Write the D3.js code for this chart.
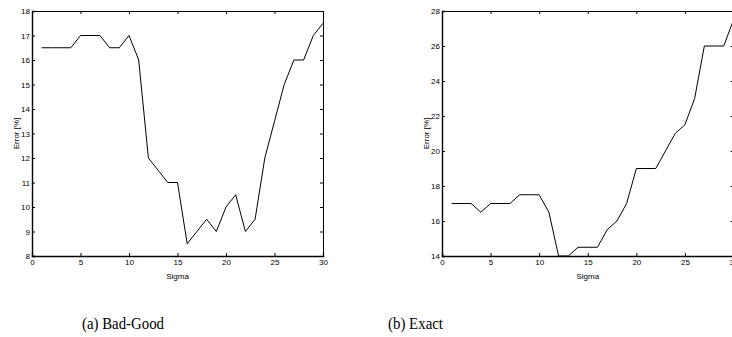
<!DOCTYPE html>
<html lang="en">
<head>
<meta charset="UTF-8" />
<title>Error vs Sigma</title>
<script src="https://d3js.org/d3.v7.min.js"></script>
<style>
  body { margin: 0; background: #fff; }
  svg { display: block; }
  .tick text { font-family: "Liberation Sans", Arial, sans-serif; font-size: 8px; fill: #000; }
  .lbl { font-family: "Liberation Sans", Arial, sans-serif; font-size: 8px; fill: #000; }
  .cap { font-family: "Liberation Serif", "Times New Roman", serif; font-size: 17px; fill: #000; }
</style>
</head>
<body>
<svg id="svg" width="732" height="337"></svg>
<script>
// sigma values 1..30
const sigma = [1,2,3,4,5,6,7,8,9,10,11,12,13,14,15,16,17,18,19,20,21,22,23,24,25,26,27,28,29,30];
const badGood = [16.5,16.5,16.5,16.5,17,17,17,16.5,16.5,17,16,12,11.5,11,11,8.5,9,9.5,9,10,10.5,9,9.5,12,13.5,15,16,16,17,17.5];
const exact = [17,17,17,16.5,17,17,17,17.5,17.5,17.5,16.5,14,14,14.5,14.5,14.5,15.5,16,17,19,19,19,20,21,21.5,23,26,26,26,27.5];
const xTicks = [0,5,10,15,20,25,30];
const yTicksA = [8,9,10,11,12,13,14,15,16,17,18];
const yTicksB = [14,16,18,20,22,24,26,28];
const captions = ["(a) Bad-Good", "(b) Exact"];

const svg = d3.select("svg");

function drawPanel(left, right, yDomain, yTicks, values, caption, ylabX, capX, capW) {
  const top = 11, bottom = 256;
  const x = d3.scaleLinear().domain([0, 30]).range([left, right]);
  const y = d3.scaleLinear().domain(yDomain).range([bottom, top]);
  const g = svg.append("g");

  // line
  const line = d3.line().x((d, i) => x(sigma[i])).y(d => y(d));
  g.append("path")
    .datum(values)
    .attr("d", line)
    .attr("fill", "none")
    .attr("stroke", "#000")
    .attr("stroke-width", 1);

  // axes with inward ticks (matlab style box)
  g.append("g").attr("transform", `translate(0,${bottom})`)
    .call(d3.axisBottom(x).tickValues(xTicks).tickSize(-3).tickPadding(3))
    .call(a => a.select(".domain").attr("stroke-width", 1.4));
  g.append("g").attr("transform", `translate(${left},0)`)
    .call(d3.axisLeft(y).tickValues(yTicks).tickSize(-3).tickPadding(2))
    .call(a => a.select(".domain").attr("stroke-width", 1.4));
  g.append("g").attr("transform", `translate(0,${top})`)
    .call(d3.axisTop(x).tickValues(xTicks).tickSize(-3).tickFormat(""));
  g.append("g").attr("transform", `translate(${right},0)`)
    .call(d3.axisRight(y).tickValues(yTicks).tickSize(-3).tickFormat(""));
  g.selectAll(".domain").attr("stroke", "#000");
  g.selectAll(".tick line").attr("stroke", "#000");
  g.selectAll(".tick text").attr("font-size", null).attr("font-family", null);

  g.append("text").attr("class", "lbl")
    .attr("x", (left + right) / 2).attr("y", 279)
    .attr("text-anchor", "middle").text("Sigma");

  g.append("text").attr("class", "lbl")
    .attr("transform", `translate(${ylabX},${(top + bottom) / 2}) rotate(-90)`)
    .attr("text-anchor", "middle").text("Error [%]");

  g.append("text").attr("class", "cap")
    .attr("x", capX - capW / 2).attr("y", 329)
    .attr("textLength", capW)
    .attr("lengthAdjust", "spacingAndGlyphs")
    .text(caption);
}

drawPanel(32, 323, [8, 18], yTicksA, badGood, captions[0], 19, 123, 82);
drawPanel(442, 733.5, [14, 28], yTicksB, exact, captions[1], 429, 415.5, 55);
</script>
</body>
</html>
